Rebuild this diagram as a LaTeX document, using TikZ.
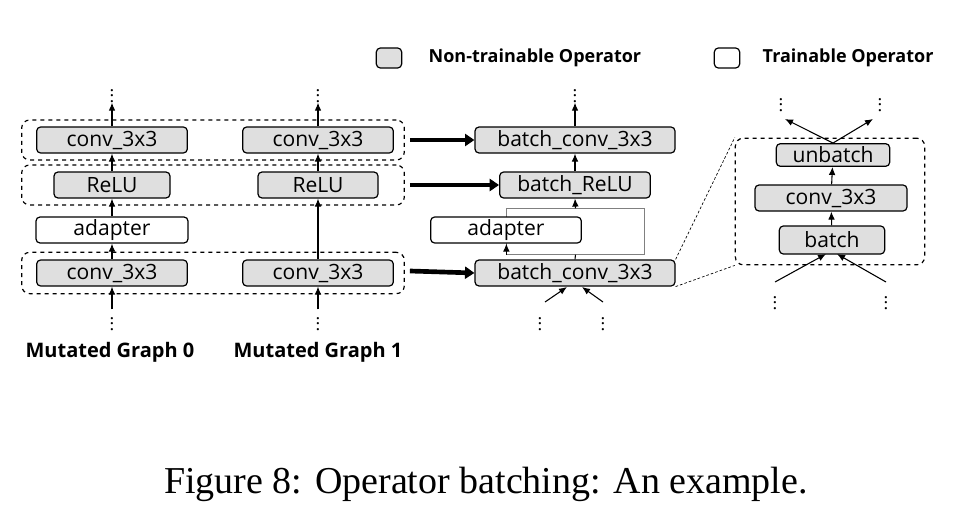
\documentclass[tikz,border=0pt]{standalone}
\usepackage{fontspec}
\setmainfont{Liberation Serif}
\newfontfamily\boxfont{Open Sans}
\usetikzlibrary{arrows.meta}
\begin{document}
\begin{tikzpicture}[x=0.75pt,y=-0.75pt,
 op/.style={draw,rounded corners=3pt,line width=0.9pt,font=\boxfont\fontsize{15.8}{16}\selectfont,inner sep=0pt,minimum height=19.5pt},
 nt/.style={op,fill=gray!25},
 tr/.style={op,fill=white},
 grp/.style={draw,dashed,rounded corners=6pt,line width=0.9pt},
 ar/.style={-{Latex[length=6pt,width=5pt]},line width=0.8pt},
 big/.style={-{Triangle[length=7pt,width=9pt]},line width=3.5pt},
 dt/.style={inner sep=0pt,font=\fontsize{14}{14}\selectfont},
 lab/.style={font=\boxfont\bfseries\fontsize{13.5}{15}\selectfont},
 labb/.style={font=\boxfont\bfseries\fontsize{15}{16}\selectfont}]
\useasboundingbox (0,0) rectangle (971,510);
% groups
\node[grp,minimum width=287pt,minimum height=30pt] (g1) at (213,140) {};
\node[grp,minimum width=287pt,minimum height=30pt] (g2) at (213,185) {};
\node[grp,minimum width=287pt,minimum height=31pt] (g3) at (213,273) {};
% graph 0
\node[nt,minimum width=113pt] (c0t) at (112,140) {conv\_3x3};
\node[nt,minimum width=87pt] (r0) at (112,185) {ReLU};
\node[tr,minimum width=114pt] (a0) at (112,230) {adapter};
\node[nt,minimum width=113pt] (c0b) at (112,273) {conv\_3x3};
\node[dt] (d0t) at (112,92) {$\vdots$};
\node[dt] (d0b) at (112,320) {$\vdots$};
\draw[ar] (d0b) -- (c0b); \draw[ar] (c0b) -- (a0); \draw[ar] (a0) -- (r0);
\draw[ar] (r0) -- (c0t); \draw[ar] (c0t) -- (d0t);
% graph 1
\node[nt,minimum width=113pt] (c1t) at (318,140) {conv\_3x3};
\node[nt,minimum width=90pt] (r1) at (318,185) {ReLU};
\node[nt,minimum width=113pt] (c1b) at (318,273) {conv\_3x3};
\node[dt] (d1t) at (318,92) {$\vdots$};
\node[dt] (d1b) at (318,320) {$\vdots$};
\draw[ar] (d1b) -- (c1b); \draw[ar] (c1b) -- (r1);
\draw[ar] (r1) -- (c1t); \draw[ar] (c1t) -- (d1t);
\node[labb] (m0) at (110,352) {Mutated Graph 0};
\node[labb] (m1) at (318,352) {Mutated Graph 1};
% middle
\node[nt,minimum width=150pt] (bct) at (575,140) {batch\_conv\_3x3};
\node[nt,minimum width=113pt] (br) at (575,185) {batch\_ReLU};
\node[draw=gray,line width=0.7pt,minimum width=103pt,minimum height=34pt,inner sep=0pt] (gr) at (575.5,231.5) {};
\node[tr,minimum width=113pt] (ad) at (506,230) {adapter};
\node[nt,minimum width=150pt] (bcb) at (575,273) {batch\_conv\_3x3};
\node[dt] (dmt) at (575,92) {$\vdots$};
\node[dt] (dm1) at (540,320) {$\vdots$};
\node[dt] (dm2) at (603,320) {$\vdots$};
\draw[line width=0.8pt] (bcb.north) -- (gr.south);
\draw[ar] (gr.south west) -- (ad.south -| gr.south west);
\draw[ar] (gr.north) -- (br.south);
\draw[ar] (br) -- (bct); \draw[ar] (bct) -- (dmt);
\coordinate (i1) at (545,302);
\coordinate (i2) at (603,302);
\draw[ar] (i1) -- (567,287);
\draw[ar] (i2) -- (582,287);
\draw[big] (g1.east) ++(5,0) -- (bct.west);
\draw[big] (g2.east) ++(5,0) -- (br.west);
\draw[big] (g3.east) ++(5,-2) -- (bcb.west);
% right
\node[grp,minimum width=142pt,minimum height=95pt] (rg) at (830,201.5) {};
\node[nt,minimum width=85pt,minimum height=17pt] (ub) at (833,155) {unbatch};
\node[nt,minimum width=114pt] (rc) at (831,198) {conv\_3x3};
\node[nt,minimum width=79pt,minimum height=21pt] (bt) at (832,240) {batch};
\node[dt] (dr1) at (781,101) {$\vdots$};
\node[dt] (dr2) at (880,101) {$\vdots$};
\node[dt] (dr3) at (775,299) {$\vdots$};
\node[dt] (dr4) at (886,299) {$\vdots$};
\draw[ar] (bt) -- (rc); \draw[ar] (rc) -- (ub);
\draw[ar] (ub.north) -- (785,119);
\draw[ar] (ub.north) -- (873,119);
\coordinate (j1) at (775,282);
\coordinate (j2) at (886,282);
\draw[ar] (j1) -- (826,254);
\draw[ar] (j2) -- (837,254);
\draw[line width=0.5pt,dash pattern=on 2pt off 1.5pt] (bcb.north east) -- (rg.north west);
\draw[line width=0.5pt,dash pattern=on 2pt off 1.5pt] (bcb.south east) -- (rg.south west);
% legend
\node[nt,minimum width=19pt,minimum height=15pt] (l1) at (389,58) {};
\node[lab,anchor=west] (l1t) at (424,58) {Non-trainable Operator};
\node[tr,minimum width=19pt,minimum height=15pt] (l2) at (727,58) {};
\node[lab,anchor=west] (l2t) at (758,58) {Trainable Operator};
\node[font=\fontsize{28.5}{32}\selectfont] (cap) at (486,484) {Figure 8: Operator batching: An example.};
\end{tikzpicture}
\end{document}
